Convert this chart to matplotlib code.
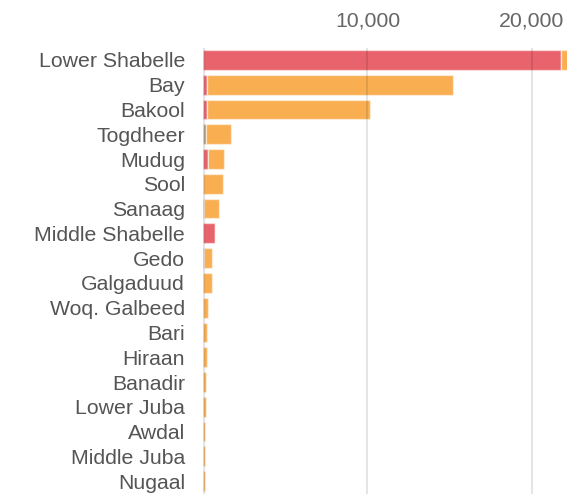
import matplotlib
matplotlib.use("Agg")
import matplotlib.pyplot as plt
import numpy as np

# regions, top to bottom
regions = ["Lower Shabelle", "Bay", "Bakool", "Togdheer", "Mudug", "Sool",
           "Sanaag", "Middle Shabelle", "Gedo", "Galgaduud", "Woq. Galbeed",
           "Bari", "Hiraan", "Banadir", "Lower Juba", "Awdal", "Middle Juba",
           "Nugaal"]
# stacked segments
red = [21760, 260, 230, 0, 280, 0, 80, 750, 60, 0, 0, 0, 0, 0, 0, 0, 0, 0]
gray = [0, 0, 0, 180, 0, 0, 0, 0, 0, 0, 0, 0, 0, 0, 0, 0, 0, 0]
orange = [740, 14940, 9920, 1500, 980, 1200, 910, 0, 510, 550, 320, 265,
          245, 200, 185, 140, 120, 110]
xticks = [10000, 20000]
xtick_labels = ["10,000", "20,000"]

plt.rcParams['font.family'] = ['Liberation Sans', 'DejaVu Sans']

fig = plt.figure(figsize=(5.67, 4.95), dpi=100)
ax = fig.add_axes([0.358, 0.003, 0.642, 0.901])

y = np.arange(len(regions))
red = np.array(red)
gray = np.array(gray)
orange = np.array(orange)

edge = (1, 1, 1, 0.5)
ax.barh(y, red, height=0.8, color="#e8636b", edgecolor=edge, linewidth=1, zorder=2)
ax.barh(y, gray, left=red, height=0.8, color="#b8a084", edgecolor=edge, linewidth=1, zorder=2)
ax.barh(y, orange, left=red + gray, height=0.8, color="#f9ae52", edgecolor=edge, linewidth=1, zorder=2)

ax.set_xlim(0, 22130)
ax.set_ylim(len(regions) - 0.5, -0.5)

# grid lines drawn over the bars
for xv in xticks:
    ax.axvline(xv, color=(0, 0, 0, 0.1), linewidth=1.5, zorder=3)
ax.axvline(0, color=(0, 0, 0, 0.1), linewidth=2.5, zorder=3)

ax.xaxis.tick_top()
ax.set_xticks(xticks)
ax.set_xticklabels(xtick_labels)
ax.set_yticks(y)
ax.set_yticklabels(regions)
ax.tick_params(axis="x", length=0, pad=12, labelsize=15.3, colors="#666666")
ax.tick_params(axis="y", length=0, pad=13, labelsize=15.3, colors="#555555")

for s in ax.spines.values():
    s.set_visible(False)

fig.savefig("out.png", dpi=100)
